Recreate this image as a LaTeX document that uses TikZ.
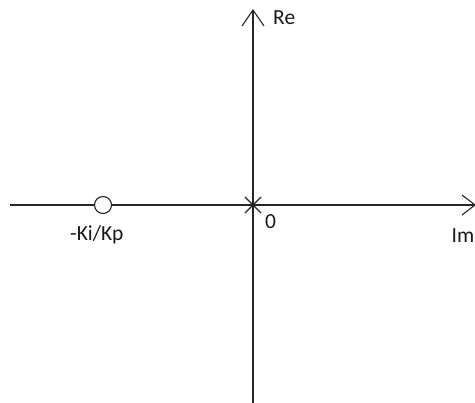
\documentclass[tikz,border=0pt]{standalone}
\usepackage{fontspec}
\setmainfont{Carlito}
\tikzset{
  axis/.style={line width=1.1pt, draw=black!85},
  tip/.style={line width=1.1pt, draw=black!85},
  lbl/.style={inner sep=0pt, anchor=base west, font=\fontsize{21.5}{24}\selectfont, text=black!90},
}
\begin{document}
\begin{tikzpicture}[x=1pt,y=-1pt]
\useasboundingbox (0,0) rectangle (475,403);
\clip (0,0) rectangle (475,403);
\coordinate (top) at (253,10);
\coordinate (bot) at (253,403);
\coordinate (left) at (10,205);
\coordinate (right) at (475,205);
\coordinate (o) at (253,205);
\draw[axis] (bot) -- (top);
\draw[axis] (left) -- (right);
\draw[tip] (top) ++(-11,16) -- (top) -- ++(11,16);
\draw[tip] (right) ++(-13,-10) -- (right) -- ++(-13,10);
\draw[axis] (o) ++(-8,-8) -- ++(16,16);
\draw[axis] (o) ++(-8,8) -- ++(16,-16);
\node[draw=black!85, line width=1.1pt, circle, minimum size=17pt, inner sep=0pt, fill=white] (zero) at (103,205) {};
\node[lbl] (re) at (273,25) {Re};
\node[lbl] (orig) at (265,229) {0};
\node[lbl] (kikp) at (70,241) {-Ki/Kp};
\node[lbl] (im) at (451.5,243) {Im};
\end{tikzpicture}
\end{document}
